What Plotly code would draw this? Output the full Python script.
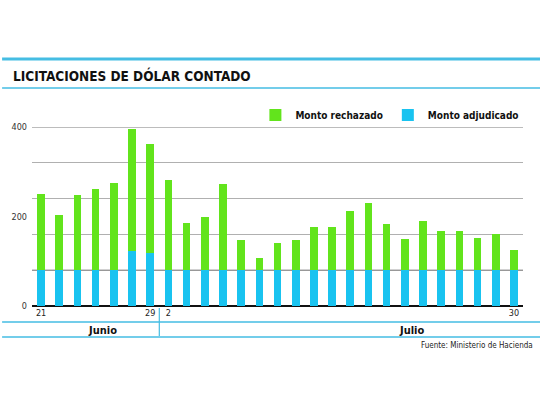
import plotly.graph_objects as go

# fechas de licitación (días hábiles)
dias = ['21/06', '22/06', '25/06', '26/06', '27/06', '28/06', '29/06',
        '02/07', '03/07', '04/07', '05/07', '06/07', '10/07', '11/07',
        '12/07', '13/07', '16/07', '17/07', '18/07', '19/07', '20/07',
        '23/07', '24/07', '25/07', '26/07', '27/07', '30/07']

# millones de USD
adjudicado = [80, 80, 80, 80, 80, 122, 119, 80, 80, 80, 80, 80, 80, 80,
              80, 80, 80, 80, 80, 80, 80, 80, 80, 80, 80, 80, 80]
total = [250, 203, 249, 262, 275, 395, 363, 282, 185, 198, 273, 147, 108, 141,
         147, 177, 176, 212, 231, 184, 150, 191, 168, 167, 152, 161, 125]
rechazado = [t - a for t, a in zip(total, adjudicado)]

tick_dias = ['21/06', '29/06', '02/07', '30/07']
tick_txt = ['21', '29', '2', '30']

verde = '#62e41c'
azul = '#19c3f0'
celeste = '#45bde3'
fuente = 'Liberation Sans Narrow, DejaVu Sans Condensed, Arial Narrow, sans-serif'

fig = go.Figure()
fig.add_trace(go.Bar(x=dias, y=adjudicado, name='Monto adjudicado',
                     marker=dict(color=azul, line=dict(width=0))))
fig.add_trace(go.Bar(x=dias, y=rechazado, name='Monto rechazado',
                     marker=dict(color=verde, line=dict(width=0))))

# area del grafico: x 30..522.6 px, y 127..306 px
L, W, B, H = 30, 492.6, 306, 179


def px(x):
    return (x - L) / W


def py(y):
    return (B - y) / H


shapes = [
    # lineas celestes superiores
    dict(type='line', xref='paper', yref='paper', x0=px(0), x1=px(540),
         y0=py(59), y1=py(59), line=dict(color=celeste, width=3)),
    dict(type='line', xref='paper', yref='paper', x0=px(0), x1=px(540),
         y0=py(88), y1=py(88), line=dict(color=celeste, width=1.5)),
    # franja de meses
    dict(type='line', xref='paper', yref='paper', x0=px(0), x1=px(540),
         y0=py(322), y1=py(322), line=dict(color=celeste, width=1.5)),
    dict(type='line', xref='paper', yref='paper', x0=px(0), x1=px(540),
         y0=py(337), y1=py(337), line=dict(color=celeste, width=1.5)),
    dict(type='line', xref='x', yref='paper', x0=6.5, x1=6.5,
         y0=py(308), y1=py(336), line=dict(color=celeste, width=1.2)),
    # lineas de grilla más oscuras
    dict(type='line', xref='paper', yref='y', x0=0, x1=1, y0=80, y1=80,
         layer='below', line=dict(color='#6a6a6a', width=1)),
    dict(type='line', xref='paper', yref='y', x0=0, x1=1, y0=400, y1=400,
         layer='below', line=dict(color='#7a7a7a', width=1)),
]

annotations = [
    dict(text='<b>LICITACIONES DE DÓLAR CONTADO</b>', xref='paper', yref='paper',
         x=px(9), y=py(75), xanchor='left', yanchor='middle', showarrow=False,
         font=dict(family=fuente, size=13.5, color='#111111')),
    dict(text='<b>Junio</b>', xref='paper', yref='paper', x=px(101), y=py(330),
         xanchor='center', yanchor='middle', showarrow=False,
         font=dict(family=fuente, size=11, color='#111111')),
    dict(text='<b>Julio</b>', xref='paper', yref='paper', x=px(411), y=py(330),
         xanchor='center', yanchor='middle', showarrow=False,
         font=dict(family=fuente, size=11, color='#111111')),
    dict(text='Fuente: Ministerio de Hacienda', xref='paper', yref='paper',
         x=px(535), y=py(345), xanchor='right', yanchor='middle', showarrow=False,
         font=dict(family=fuente, size=8, color='#222222')),
]

fig.update_layout(
    width=540, height=405,
    margin=dict(l=L, r=540 - L - W, t=127, b=405 - B, pad=0),
    paper_bgcolor='white', plot_bgcolor='white',
    barmode='stack', bargap=0.58,
    font=dict(family=fuente, size=9, color='#222222'),
    shapes=shapes, annotations=annotations,
    showlegend=True,
    legend=dict(orientation='h', traceorder='reversed', xanchor='right', x=px(524),
                yanchor='middle', y=py(115),
                font=dict(family=fuente, size=10, color='#111111', weight='bold'),
                itemwidth=30, bgcolor='rgba(0,0,0,0)'),
)
fig.update_xaxes(type='category', range=[-0.5, len(dias) - 0.5], tickmode='array',
                 tickvals=tick_dias, ticktext=tick_txt, ticks='', showgrid=False,
                 showline=False, zeroline=False, tickfont=dict(size=9, color='#222222'))
fig.update_yaxes(range=[0, 400], tickmode='array', tickvals=[0, 200, 400],
                 showgrid=False, zeroline=True, zerolinecolor='#111111', zerolinewidth=1.6,
                 ticks='', ticklabelstandoff=4, tickfont=dict(size=9, color='#333333'),
                 minor=dict(tickmode='array', tickvals=[160, 240, 320], showgrid=True,
                            gridcolor='#b0b0b0', gridwidth=1, ticks=''))

# quitar el margen por defecto del body para que la figura ocupe la ventana
fig.write_html('out.html', config={'displayModeBar': False},
               post_script="document.body.style.margin='0';")
